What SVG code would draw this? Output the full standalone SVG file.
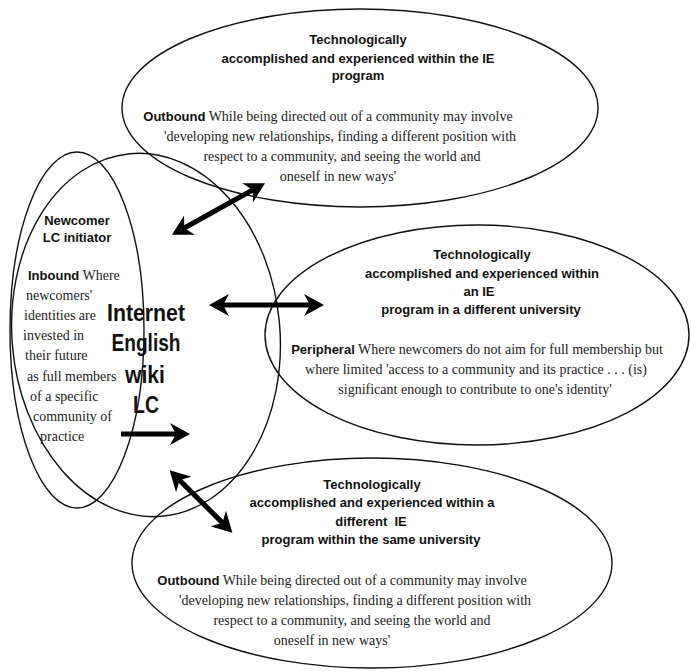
<svg xmlns="http://www.w3.org/2000/svg" width="691" height="672" viewBox="0 0 691 672">
<style>
.shape{fill:none;stroke:#111;stroke-width:1.4}
.t{font-family:"Liberation Sans",Arial,sans-serif;font-weight:bold;font-size:13px;fill:#111;text-anchor:middle}
.b{font-family:"Liberation Serif","Times New Roman",serif;font-size:14px;fill:#222}
.bm{text-anchor:middle}
.k{font-family:"Liberation Sans",Arial,sans-serif;font-weight:bold;font-size:13px;fill:#111}
.big{font-family:"Liberation Sans",Arial,sans-serif;font-weight:bold;font-size:23px;fill:#111;text-anchor:middle}
.arr{fill:none;stroke:#000;stroke-width:5}
</style>
<defs>
<marker id="ah" viewBox="0 0 20 22" refX="10" refY="11" markerWidth="20" markerHeight="22" markerUnits="userSpaceOnUse" orient="auto-start-reverse">
<path d="M0,0 L20,11 L0,22 L6,11 z" fill="#000"/>
</marker>
</defs>
<rect width="691" height="672" fill="#fff"/>

<g id="top-node">
<ellipse class="shape" cx="360" cy="108" rx="238" ry="99"/>
<text class="t" x="358" y="44">Technologically</text>
<text class="t" x="358" y="63">accomplished and experienced within the IE</text>
<text class="t" x="358" y="80">program</text>
<text class="b bm" x="328" y="121"><tspan class="k">Outbound</tspan> While being directed out of a community may involve</text>
<text class="b bm" x="340" y="141">'developing new relationships, finding a different position with</text>
<text class="b bm" x="342" y="161">respect to a community, and seeing the world and</text>
<text class="b bm" x="338" y="181">oneself in new ways'</text>
</g>

<g id="right-node">
<ellipse class="shape" cx="477" cy="335" rx="212" ry="110"/>
<text class="t" x="482" y="259">Technologically</text>
<text class="t" x="482" y="278">accomplished and experienced within</text>
<text class="t" x="479" y="296">an IE</text>
<text class="t" x="481" y="314">program in a different university</text>
<text class="b bm" x="477" y="354"><tspan class="k">Peripheral</tspan> Where newcomers do not aim for full membership but</text>
<text class="b bm" x="476" y="374">where limited 'access to a community and its practice . . . (is)</text>
<text class="b bm" x="475" y="394">significant enough to contribute to one's identity'</text>
</g>

<g id="bottom-node">
<ellipse class="shape" cx="372" cy="563" rx="240" ry="105"/>
<text class="t" x="372" y="489">Technologically</text>
<text class="t" x="372" y="507">accomplished and experienced within a</text>
<text class="t" x="371" y="526" xml:space="preserve">different  IE</text>
<text class="t" x="371" y="544">program within the same university</text>
<text class="b bm" x="342" y="585"><tspan class="k">Outbound</tspan> While being directed out of a community may involve</text>
<text class="b bm" x="355" y="605">'developing new relationships, finding a different position with</text>
<text class="b bm" x="352" y="625">respect to a community, and seeing the world and</text>
<text class="b bm" x="332" y="645">oneself in new ways'</text>
</g>

<g id="lc-node">
<ellipse class="shape" cx="146" cy="335" rx="134" ry="182" transform="rotate(-5 146 335)"/>
<text class="big" x="146" y="321" textLength="78" lengthAdjust="spacingAndGlyphs">Internet</text>
<text class="big" x="146" y="351" textLength="69" lengthAdjust="spacingAndGlyphs">English</text>
<text class="big" x="145" y="383" textLength="40" lengthAdjust="spacingAndGlyphs">wiki</text>
<text class="big" x="146" y="413" textLength="26" lengthAdjust="spacingAndGlyphs">LC</text>
</g>

<g id="newcomer-node">
<ellipse class="shape" cx="77" cy="330" rx="67" ry="178"/>
<text class="t" x="77" y="225">Newcomer</text>
<text class="t" x="77" y="242">LC initiator</text>
<text class="b" x="28" y="280"><tspan class="k">Inbound</tspan> Where</text>
<text class="b" x="26" y="300">newcomers'</text>
<text class="b" x="24" y="320">identities are</text>
<text class="b" x="23" y="340">invested in</text>
<text class="b" x="25" y="360">their future</text>
<text class="b" x="27" y="381">as full members</text>
<text class="b" x="30" y="401">of a specific</text>
<text class="b" x="33" y="421">community of</text>
<text class="b" x="40" y="441">practice</text>
</g>

<g id="connectors">
<line class="arr" x1="180.7" y1="230" x2="256.3" y2="188" marker-start="url(#ah)" marker-end="url(#ah)"/>
<line class="arr" x1="219" y1="305" x2="314" y2="305" marker-start="url(#ah)" marker-end="url(#ah)"/>
<line class="arr" x1="121" y1="434" x2="180" y2="434" marker-end="url(#ah)"/>
<line class="arr" x1="176.7" y1="477.4" x2="225.3" y2="525.6" marker-start="url(#ah)" marker-end="url(#ah)"/>
</g>
</svg>
